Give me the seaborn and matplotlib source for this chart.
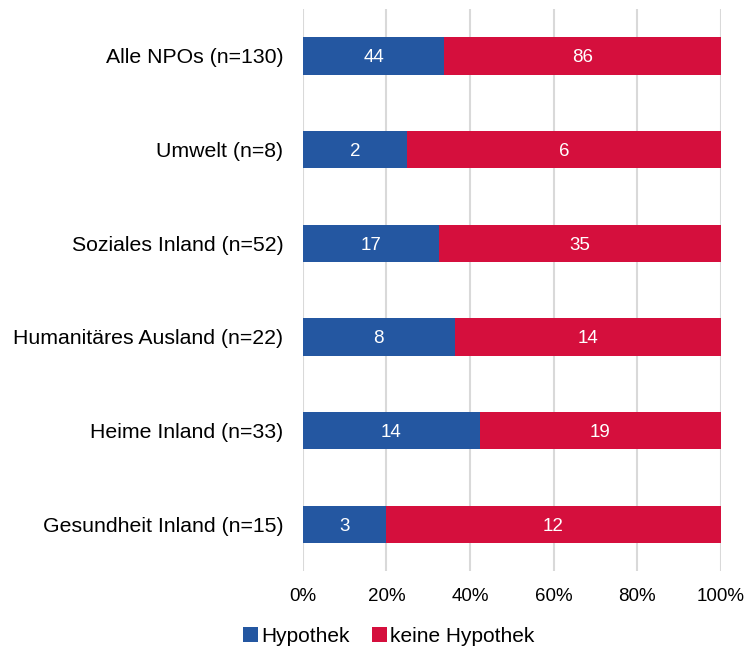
import pandas as pd
import matplotlib.pyplot as plt
import seaborn as sns

categories = ['Alle NPOs (n=130)', 'Umwelt (n=8)', 'Soziales Inland (n=52)',
              'Humanitäres Ausland (n=22)', 'Heime Inland (n=33)', 'Gesundheit Inland (n=15)']
hypothek = [44, 2, 17, 8, 14, 3]
keine_hypothek = [86, 6, 35, 14, 19, 12]

blue = '#2457A1'
red = '#D50F3D'

df = pd.DataFrame({'kategorie': categories, 'hyp': hypothek, 'keine': keine_hypothek})
df['total'] = df['hyp'] + df['keine']
df['hyp_pct'] = df['hyp'] / df['total'] * 100
df['full_pct'] = 100.0

sns.set_style('white')
plt.rcParams['font.family'] = ['Liberation Sans', 'DejaVu Sans']
plt.rcParams['text.color'] = 'black'
plt.rcParams['xtick.color'] = 'black'
plt.rcParams['ytick.color'] = 'black'

fig = plt.figure(figsize=(7.46, 6.52), dpi=100)
ax = fig.add_axes([0.406, 0.124, 0.56, 0.862])

# red bar covers full width, blue share drawn on top
sns.barplot(data=df, y='kategorie', x='full_pct', color=red, width=0.4,
            saturation=1, ax=ax, orient='h', label='keine Hypothek')
sns.barplot(data=df, y='kategorie', x='hyp_pct', color=blue, width=0.4,
            saturation=1, ax=ax, orient='h', label='Hypothek')

red_bars = ax.containers[0]
blue_bars = ax.containers[1]
for rect in list(red_bars) + list(blue_bars):
    rect.set_edgecolor('none')

# labels: counts centered in each segment
for rect, n in zip(blue_bars, df['hyp']):
    ax.text(rect.get_x() + rect.get_width() / 2, rect.get_y() + rect.get_height() / 2,
            str(n), ha='center', va='center_baseline', color='white', fontsize=13.5)
for rect_b, n in zip(blue_bars, df['keine']):
    xs = rect_b.get_width()
    ax.text((xs + 100) / 2, rect_b.get_y() + rect_b.get_height() / 2,
            str(n), ha='center', va='center_baseline', color='white', fontsize=13.5)

ax.set_xlim(0, 100)
ax.set_xticks([0, 20, 40, 60, 80, 100])
ax.set_xticklabels(['0%', '20%', '40%', '60%', '80%', '100%'], fontsize=13.5)
ax.tick_params(axis='y', labelsize=15.3, length=0, pad=14)
ax.tick_params(axis='x', length=0, pad=12)
ax.set_xlabel('')
ax.set_ylabel('')
ax.grid(axis='x', color='#D9D9D9', linewidth=1.5)
ax.set_axisbelow(True)
for s in ax.spines.values():
    s.set_visible(False)

handles, labels = ax.get_legend_handles_labels()
order = [labels.index('Hypothek'), labels.index('keine Hypothek')]
fig.legend([handles[i] for i in order], [labels[i] for i in order],
           loc='center', bbox_to_anchor=(0.521, 0.024), ncol=2, frameon=False,
           fontsize=15, handlelength=0.7, handleheight=0.7, handletextpad=0.15,
           columnspacing=1.1)
if ax.get_legend():
    ax.get_legend().remove()

fig.savefig('out.png', dpi=100)
